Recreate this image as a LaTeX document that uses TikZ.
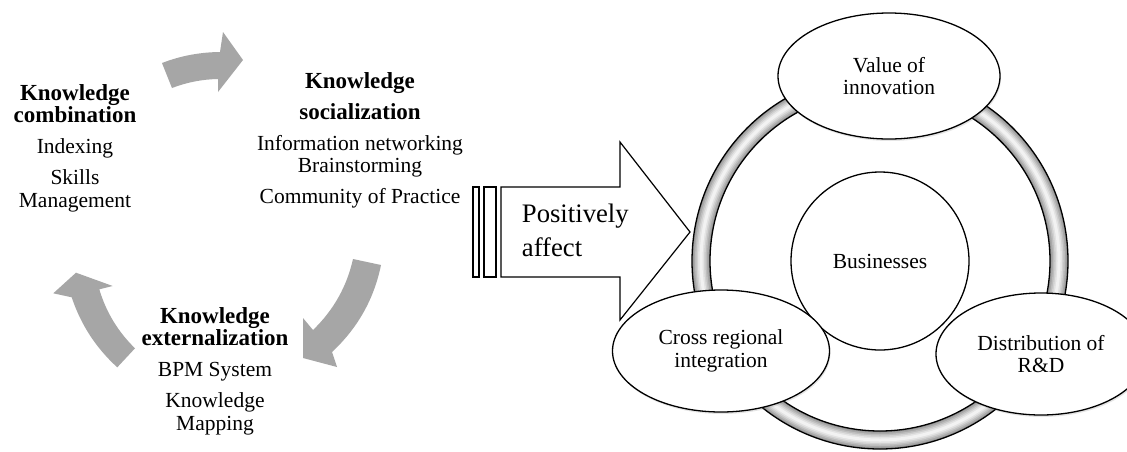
\documentclass[tikz,border=0pt]{standalone}
\usepackage{fontspec}
\setmainfont{Liberation Serif}
\newfontfamily\titlefont{Liberation Sans}
\usetikzlibrary{shapes.geometric, shadows}
\definecolor{cyclegray}{RGB}{166,166,166}
\newcommand{\headline}[1]{{\fontsize{23}{22.5}\selectfont\bfseries #1}}
\tikzset{
    modes/.style={align=center, inner sep=0pt, anchor=north, font=\fontsize{21.5}{22.5}\selectfont},
    factor/.style={ellipse, draw, fill=white, line width=1.3pt, align=center, inner sep=0pt, font=\fontsize{21.5}{22.5}\selectfont, drop shadow={opacity=0.2, shadow xshift=1pt, shadow yshift=-2pt}},
    cyclearrow/.style={fill=cyclegray, draw=none},
    blockarrow/.style={draw, fill=white, line width=1.2pt, line join=miter},
}

\begin{document}
\begin{tikzpicture}[x=1pt, y=-1pt]
    \useasboundingbox (0,0) rectangle (1127,451);
    \clip (0,0) rectangle (1127,451);
    \fill[white] (0,0) rectangle (1127,451);
    \node[anchor=base west, inner sep=0pt, font=\fontsize{22.6}{24}\titlefont\bfseries] (title) at (402,-9) {Figure 1: Conceptual model};

    % knowledge conversion modes
    \node[modes] (comb) at (75,84.3) {\headline{Knowledge}\\\headline{combination}\\[8.5pt]Indexing\\[8.5pt]Skills\\Management};
    \node[modes] (soc) at (360,72.3) {\headline{Knowledge}\\[8.5pt]\headline{socialization}\\[8.5pt]Information networking\\Brainstorming\\[8.5pt]Community of Practice};
    \node[modes] (ext) at (215,307) {\headline{Knowledge}\\\headline{externalization}\\[8.5pt]BPM System\\[8.5pt]Knowledge\\Mapping};

    % curved arrows of the cycle
    \fill[cyclearrow] (162,63) .. controls (180.6,55.8) and (200,52.2) .. (220,52) -- (223,32) -- (243,60) -- (218,92) -- (218,79) .. controls (202.2,79.3) and (186.8,82.3) .. (172,88) -- cycle;
    \fill[cyclearrow] (353,259) -- (381,265) .. controls (374,299.2) and (357.6,328.2) .. (332,352) -- (337,367) -- (303,358) -- (303,318) -- (313,330) .. controls (333.4,310.3) and (346.8,286.7) .. (353,259) -- cycle;
    \fill[cyclearrow] (117.3,367.3) -- (135,348.3) .. controls (118,331.7) and (106.1,312.1) .. (99.3,289.3) -- (112.7,286) -- (76,272.7) -- (53.3,293.3) -- (71.7,297.3) .. controls (80.8,324.6) and (96,348) .. (117.3,367.3) -- cycle;

    % striped block arrow
    \draw[blockarrow] (473,187) rectangle (479,277);
    \draw[blockarrow] (484,187) rectangle (496,277);
    \draw[blockarrow] (501,187) -- (620,187) -- (620,142) -- (690,232) -- (620,320) -- (620,277) -- (501,277) -- cycle;
    \node[anchor=north west, align=left, inner sep=0pt, font=\fontsize{26.7}{34.3}\selectfont] (affect) at (521.7,203.5) {Positively\\affect};

    % ring, shaded like a tube
    \foreach \w/\g in {18/42, 15/34, 12/26, 9/18, 6/11, 3/5}
        \draw[black!\g, line width=\w pt] (880,261) circle[radius=179pt];
    \draw[line width=1.3pt] (880,261) circle[radius=188pt];
    \draw[line width=1.3pt] (880,261) circle[radius=170pt];

    \node[circle, draw, fill=white, line width=1.3pt, minimum size=178pt, font=\fontsize{21.5}{22.5}\selectfont] (biz) at (880,261) {Businesses};
    \node[factor, minimum width=222pt, minimum height=126pt] (value) at (889,76) {Value of\\innovation};
    \node[factor, minimum width=217pt, minimum height=122pt] (cross) at (721,351) {Cross regional\\integration};
    \node[factor, minimum width=210pt, minimum height=122pt] (rnd) at (1041,354) {Distribution of\\R\&D};
\end{tikzpicture}
\end{document}
